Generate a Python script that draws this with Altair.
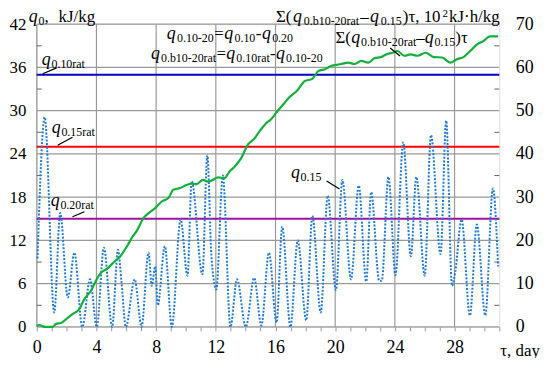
import altair as alt
import pandas as pd

# ---------------- data ----------------
# q0.15 (blue dotted), left axis, kJ/kg
q_days = [0.05, 0.53, 1.17, 1.57, 2.08, 2.52, 3.05, 3.57, 4.02, 4.5, 5.05, 5.44, 5.68, 5.97,
          6.56, 7.02, 7.49, 7.71, 7.94, 8.11, 8.58, 9.05, 9.64, 10.1, 10.38, 11.1, 11.43, 11.7,
          12.03, 12.47, 12.98, 13.42, 14.01, 14.57, 15.05, 15.56, 16.07, 16.45, 17.0, 17.49,
          18.06, 18.47, 19.03, 19.5, 20.05, 20.48, 21.06, 21.58, 22.08, 22.41, 22.95, 23.12,
          23.57, 24.04, 24.56, 25.07, 25.44, 26.0, 26.42, 27.06, 27.44, 27.83, 28.05, 28.47,
          29.03, 29.49, 30.06, 30.57, 30.92]
q_vals = [9.5, 29.1, 2.0, 15.8, 4.1, 10.3, 0.0, 6.6, 0.0, 11.0, 0.0, 10.7, 6.2, 0.0,
          6.6, 0.0, 10.3, 5.7, 8.4, 3.0, 11.2, 0.0, 14.9, 7.1, 20.2, 7.3, 23.8, 10.0,
          5.2, 21.0, 0.0, 6.6, 0.0, 6.8, 0.2, 10.3, 0.6, 13.9, 0.0, 12.0,
          0.9, 15.4, 2.0, 18.2, 5.1, 20.4, 6.6, 19.6, 6.3, 18.7, 6.4, 6.4,
          20.8, 7.2, 25.6, 9.8, 20.8, 7.1, 26.6, 10.1, 28.6, 5.7, 7.7, 14.9,
          1.6, 14.2, 1.6, 19.2, 8.4]

# cumulative sum (green), right axis, 10^2 kJ.h/kg
s_days = [0.0, 0.15, 0.35, 0.55, 1.05, 1.3, 1.63, 1.97, 2.41, 2.85, 3.18, 3.62, 3.96, 4.29,
          4.66, 5.17, 5.61, 6.06, 6.4, 6.7, 7.16, 7.49, 7.94, 8.38, 8.82, 9.15, 9.6, 10.03,
          10.37, 10.7, 11.14, 11.47, 11.8, 12.14, 12.58, 12.91, 13.24, 13.68, 14.12, 14.57,
          14.9, 15.34, 15.67, 16.11, 16.56, 16.89, 17.44, 17.99, 18.44, 18.88, 19.32, 19.76,
          20.09, 20.42, 20.87, 21.31, 21.75, 22.2, 22.63, 23.08, 23.41, 23.85, 24.18, 24.62,
          25.07, 25.51, 26.06, 26.61, 27.17, 27.72, 28.16, 28.6, 29.05, 29.49, 29.93, 30.37,
          30.92]
s_vals = [0.2, 0.45, 0.2, 0.0, 0.0, 0.7, 0.9, 1.8, 3.0, 4.1, 6.4, 8.3, 10.6, 12.5,
          13.3, 15.0, 16.4, 18.7, 20.8, 22.2, 25.2, 26.3, 27.5, 29.0, 29.8, 31.7, 32.1, 32.8,
          33.1, 33.0, 34.0, 33.6, 34.0, 34.6, 34.4, 35.9, 37.0, 38.9, 42.0, 43.5,
          45.1, 47.0, 47.9, 49.8, 51.6, 53.0, 54.6, 56.9, 57.3, 59.2, 59.6, 60.4,
          60.6, 60.8, 61.1, 60.8, 61.5, 61.1, 62.1, 62.4, 63.0, 63.4, 63.8, 62.7,
          63.0, 62.7, 63.4, 62.4, 62.3, 61.1, 61.9, 62.4, 63.8, 65.3, 66.1, 67.2,
          67.2]

rat_levels = [35, 25, 15]          # q0.10rat, q0.15rat, q0.20rat
rat_colors = ["#0000c8", "#ff0000", "#a010a0"]

x_grid = [0, 4, 8, 12, 16, 20, 24, 28]
y_grid = [0, 6, 12, 18, 24, 30, 36, 42]
y_minor = [3, 9, 15, 21, 27, 33, 39]
x_ticks = list(range(0, 32))
left_ticks = [0, 6, 12, 18, 24, 30, 36, 42]
right_ticks = [0, 10, 20, 30, 40, 50, 60, 70]

# ---------------- layout ----------------
W, H = 466, 305
OX, OY = 37, 23      # page position of plot origin
FONT = "Liberation Serif"
GRID = "#9a9a9a"

xs = alt.Scale(domain=[0, 31], nice=False, zero=False)
yl = alt.Scale(domain=[0, 42], nice=False, zero=False)
yr = alt.Scale(domain=[0, 70], nice=False, zero=False)

x_axis = alt.Axis(values=x_ticks, labelExpr="datum.value % 4 === 0 ? datum.label : ''",
                  tickSize=4, tickColor=GRID, tickWidth=1, domain=False, grid=False,
                  labelFont=FONT, labelFontSize=18, labelColor="black", labelPadding=8,
                  labelFlush=False, labelOverlap=False, title=None)
l_axis = alt.Axis(values=left_ticks, tickSize=0, domain=False, grid=False,
                  labelFont=FONT, labelFontSize=17, labelColor="black", labelPadding=11,
                  labelFlush=False, labelOverlap=False, title=None)
r_axis = alt.Axis(values=right_ticks, orient="right", tickSize=0, domain=False, grid=False,
                  labelFont=FONT, labelFontSize=18, labelColor="black", labelPadding=16,
                  labelFlush=False, labelOverlap=False, title=None)

X = alt.X("d:Q", scale=xs, axis=x_axis)
YL = alt.Y("v:Q", scale=yl, axis=l_axis)

gx = alt.Chart(pd.DataFrame({"d": x_grid})).mark_rule(color=GRID, strokeWidth=1.2).encode(x=X)
gy = alt.Chart(pd.DataFrame({"v": y_grid})).mark_rule(color=GRID, strokeWidth=1.2).encode(y=YL)
mt_l = alt.Chart(pd.DataFrame({"v": y_minor})).mark_rule(color="#666", strokeWidth=1).encode(
    y=YL, x=alt.value(0), x2=alt.value(5))
mt_r = alt.Chart(pd.DataFrame({"v": y_minor})).mark_rule(color="#666", strokeWidth=1).encode(
    y=YL, x=alt.value(W - 5), x2=alt.value(W))
rats = alt.Chart(pd.DataFrame({"v": rat_levels, "c": rat_colors})).mark_rule(strokeWidth=2).encode(
    y=YL, color=alt.Color("c:N", scale=None))
dotted = alt.Chart(pd.DataFrame({"d": q_days, "v": q_vals})).mark_line(
    interpolate="monotone", color="#1f7bd6", strokeWidth=2, strokeDash=[2, 1.6]).encode(x=X, y=YL)

left = alt.layer(gx, gy, mt_l, mt_r, rats, dotted)

green = alt.Chart(pd.DataFrame({"d": s_days, "s": s_vals})).mark_line(
    interpolate="monotone", color="#11b03a", strokeWidth=2.2).encode(
    x=alt.X("d:Q", scale=xs, axis=None), y=alt.Y("s:Q", scale=yr, axis=r_axis))
right = alt.layer(green)

# ---------------- text annotations (pixel layout) ----------------
ADV = {".": 0.25, ",": 0.25, " ": 0.25, "-": 0.333, "–": 0.5, "=": 0.564, "q": 0.5, "r": 0.333,
       "a": 0.444, "t": 0.278, "b": 0.5, "k": 0.5, "J": 0.389, "/": 0.278, "g": 0.5, "h": 0.5,
       "·": 0.25, "d": 0.5, "y": 0.5, "(": 0.333, ")": 0.333, "Σ": 0.6, "τ": 0.44}
KIND = {"q": (18, True, 0), "n": (17, False, 0), "s": (12, False, 3), "S": (11, False, -5)}


def width(text, fs):
    return sum(ADV.get(ch, 0.5) for ch in text) * fs


rows = []


def run(x0, y0, segs, gap=0.0):
    x = x0
    for kind, text in segs:
        fs, it, dy = KIND[kind]
        rows.append({"px": x - OX, "py": y0 + dy - OY, "t": text, "fs": fs, "it": it})
        x += width(text, fs) + (0.8 if it else 0) + gap


run(29, 21, [("q", "q"), ("s", "0"), ("n", ",")])
run(59, 21, [("n", "kJ/kg")])
run(168, 38, [("q", "q"), ("s", "0.10-20"), ("n", "="), ("q", "q"), ("s", "0.10"), ("n", "-"),
              ("q", "q"), ("s", "0.20")], gap=0.5)
run(152, 58, [("q", "q"), ("s", "0.b10-20rat"), ("n", "="), ("q", "q"), ("s", "0.10rat"),
              ("n", "-"), ("q", "q"), ("s", "0.10-20")], gap=0.3)
run(42, 64, [("q", "q"), ("s", "0.10rat")])
run(52, 133, [("q", "q"), ("s", "0.15rat")])
run(51, 206, [("q", "q"), ("s", "0.20rat")])
run(293, 178, [("q", "q"), ("s", "0.15")])
run(338, 42, [("n", "Σ("), ("q", "q"), ("s", "0.b10-20rat"), ("n", "–"), ("q", "q"),
              ("s", "0.15"), ("n", ")τ")])
run(278, 21, [("n", "Σ("), ("q", "q"), ("s", "0.b10-20rat"), ("n", "–"), ("q", "q"),
              ("s", "0.15"), ("n", ")τ, 10"), ("S", "2"), ("n", "kJ·h/kg")], gap=1.2)
run(504, 357, [("n", "τ, day")])

tdf = pd.DataFrame(rows)
leaders = pd.DataFrame({
    "px": [43, 58, 73, 329, 393], "py": [73, 145, 217, 181, 47],
    "px2": [57, 73, 85, 342, 403], "py2": [67, 137, 212, 189, 55]})
leaders = leaders.assign(px=leaders.px - OX, px2=leaders.px2 - OX,
                         py=leaders.py - OY, py2=leaders.py2 - OY)

ax = alt.X("px:Q", scale=alt.Scale(domain=[0, W], range=[0, W], nice=False, zero=False), axis=None)
ay = alt.Y("py:Q", scale=alt.Scale(domain=[0, H], range=[0, H], nice=False, zero=False), axis=None)

t_it = alt.Chart(tdf[tdf.it]).mark_text(font=FONT, fontStyle="italic", align="left",
                                        baseline="alphabetic", color="black").encode(
    x=ax, y=ay, text="t:N", size=alt.Size("fs:Q", scale=None))
t_no = alt.Chart(tdf[~tdf.it]).mark_text(font=FONT, align="left",
                                         baseline="alphabetic", color="black").encode(
    x=ax, y=ay, text="t:N", size=alt.Size("fs:Q", scale=None))
lead = alt.Chart(leaders).mark_rule(color="black", strokeWidth=1.2).encode(
    x=ax, y=ay, x2="px2:Q", y2="py2:Q")
annot = alt.layer(lead, t_it, t_no)

chart = alt.layer(left, right, annot).resolve_scale(
    x="independent", y="independent", size="independent").properties(
    width=W, height=H, autosize=alt.AutoSizeParams(type="none"),
    padding={"left": 29, "top": 15, "right": 43, "bottom": 30}).configure_view(
    stroke=GRID, strokeWidth=1.2).configure(background="white")

chart.save("out.html", embed_options={"renderer": "svg", "actions": False})
